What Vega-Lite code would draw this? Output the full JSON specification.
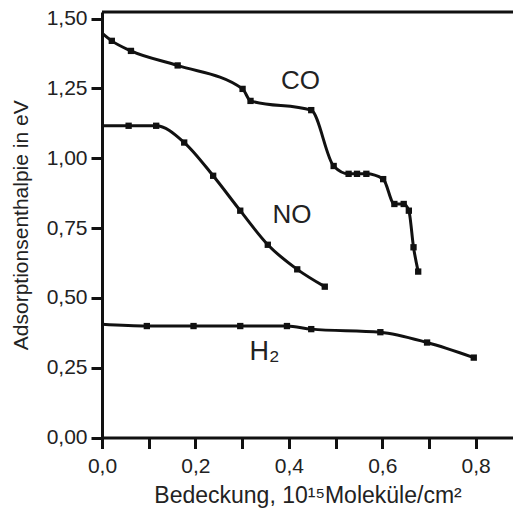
{
  "$schema": "https://vega.github.io/schema/vega-lite/v6.json",
  "width": 411,
  "height": 425.5,
  "autosize": {"type": "none"},
  "padding": {"left": 102, "top": 12, "right": 0, "bottom": 74.5},
  "background": "white",
  "config": {
    "view": {"stroke": null},
    "font": "Liberation Sans",
    "axis": {
      "grid": false,
      "domainColor": "#111",
      "domainWidth": 3,
      "tickColor": "#111",
      "tickWidth": 3,
      "labelFont": "Liberation Sans",
      "titleFont": "Liberation Sans",
      "labelColor": "#222",
      "titleColor": "#222",
      "labelFontSize": 21,
      "titleFontSize": 21,
      "titleFontWeight": "normal",
      "labelFlush": false
    }
  },
  "datasets": {
    "curves": [
      {"gas": "CO", "x": 0.0, "y": 1.448},
      {"gas": "CO", "x": 0.021, "y": 1.42},
      {"gas": "CO", "x": 0.062, "y": 1.384},
      {"gas": "CO", "x": 0.162, "y": 1.332},
      {"gas": "CO", "x": 0.301, "y": 1.248},
      {"gas": "CO", "x": 0.318, "y": 1.205},
      {"gas": "CO", "x": 0.448, "y": 1.172},
      {"gas": "CO", "x": 0.496, "y": 0.972},
      {"gas": "CO", "x": 0.528, "y": 0.944},
      {"gas": "CO", "x": 0.546, "y": 0.944},
      {"gas": "CO", "x": 0.566, "y": 0.944},
      {"gas": "CO", "x": 0.602, "y": 0.925},
      {"gas": "CO", "x": 0.626, "y": 0.836},
      {"gas": "CO", "x": 0.646, "y": 0.836},
      {"gas": "CO", "x": 0.657, "y": 0.812},
      {"gas": "CO", "x": 0.667, "y": 0.681},
      {"gas": "CO", "x": 0.677, "y": 0.594},
      {"gas": "NO", "x": 0.0, "y": 1.116},
      {"gas": "NO", "x": 0.057, "y": 1.116},
      {"gas": "NO", "x": 0.116, "y": 1.116},
      {"gas": "NO", "x": 0.176, "y": 1.056},
      {"gas": "NO", "x": 0.238, "y": 0.937},
      {"gas": "NO", "x": 0.296, "y": 0.812},
      {"gas": "NO", "x": 0.355, "y": 0.69},
      {"gas": "NO", "x": 0.418, "y": 0.602},
      {"gas": "NO", "x": 0.477, "y": 0.54},
      {"gas": "H2", "x": 0.0, "y": 0.405},
      {"gas": "H2", "x": 0.096, "y": 0.399},
      {"gas": "H2", "x": 0.196, "y": 0.399},
      {"gas": "H2", "x": 0.296, "y": 0.399},
      {"gas": "H2", "x": 0.396, "y": 0.399},
      {"gas": "H2", "x": 0.448, "y": 0.388},
      {"gas": "H2", "x": 0.596, "y": 0.377},
      {"gas": "H2", "x": 0.696, "y": 0.34},
      {"gas": "H2", "x": 0.796, "y": 0.286}
    ],
    "labels": [
      {"label": "CO", "x": 0.425, "y": 1.276},
      {"label": "NO", "x": 0.407, "y": 0.797}
    ],
    "sublabels": [
      {"label": "H₂", "x": 0.348, "y": 0.305}
    ]
  },
  "layer": [
    {
      "data": {"name": "curves"},
      "mark": {"type": "line", "interpolate": "monotone", "color": "#111", "strokeWidth": 3},
      "encoding": {
        "x": {
          "field": "x", "type": "quantitative",
          "scale": {"domain": [0, 0.88], "nice": false, "zero": false},
          "axis": {
            "values": [0, 0.1, 0.2, 0.3, 0.4, 0.5, 0.6, 0.7, 0.8],
            "labelExpr": "(round(datum.value*10) % 2 == 0) ? replace(format(datum.value, '.1f'), '.', ',') : ''",
            "tickSize": 11,
            "labelPadding": 7,
            "title": "Bedeckung, 10¹⁵Moleküle/cm²",
            "titleFontSize": 23,
            "titlePadding": 8
          }
        },
        "y": {
          "field": "y", "type": "quantitative",
          "scale": {"domain": [0, 1.5233], "nice": false},
          "axis": {
            "values": [0, 0.25, 0.5, 0.75, 1.0, 1.25, 1.5],
            "labelExpr": "replace(format(datum.value, '.2f'), '.', ',')",
            "tickSize": 11,
            "labelPadding": 4,
            "title": "Adsorptionsenthalpie in eV",
            "titlePadding": 15
          }
        },
        "detail": {"field": "gas"}
      }
    },
    {
      "data": {"name": "curves"},
      "transform": [{"filter": "datum.x > 0"}],
      "mark": {"type": "square", "color": "#111", "size": 40, "opacity": 1},
      "encoding": {
        "x": {"field": "x", "type": "quantitative"},
        "y": {"field": "y", "type": "quantitative"}
      }
    },
    {
      "data": {"values": [{}]},
      "mark": {"type": "rule", "color": "#111", "strokeWidth": 3},
      "encoding": {
        "y": {"datum": 1.5233, "type": "quantitative"}
      }
    },
    {
      "data": {"name": "labels"},
      "mark": {"type": "text", "fontSize": 26, "font": "Liberation Sans", "color": "#222", "align": "center", "baseline": "middle"},
      "encoding": {
        "x": {"field": "x", "type": "quantitative"},
        "y": {"field": "y", "type": "quantitative"},
        "text": {"field": "label"}
      }
    },
    {
      "data": {"name": "sublabels"},
      "mark": {"type": "text", "fontSize": 27, "font": "Liberation Sans", "color": "#222", "align": "center", "baseline": "middle"},
      "encoding": {
        "x": {"field": "x", "type": "quantitative"},
        "y": {"field": "y", "type": "quantitative"},
        "text": {"field": "label"}
      }
    }
  ]
}
